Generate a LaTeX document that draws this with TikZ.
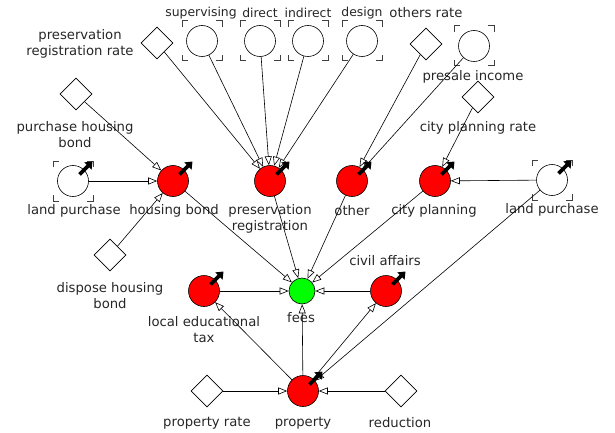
\documentclass[tikz,border=0pt]{standalone}
\usepackage{fontspec}
\setmainfont{DejaVu Sans}
\usetikzlibrary{arrows.meta,shapes.geometric}

\tikzset{
  flow/.style={circle,draw,fill=red,minimum size=31pt,inner sep=0pt,line width=0.6pt},
  total/.style={circle,draw,fill=green,minimum size=26pt,inner sep=0pt,line width=0.6pt},
  stock/.style={circle,draw,fill=white,minimum size=31pt,inner sep=0pt,line width=0.6pt},
  aux/.style={diamond,draw,fill=white,minimum size=32pt,inner sep=0pt,line width=0.6pt},
  lbl/.style={inner sep=0pt,align=center,text=black!85,font=\fontsize{13.2}{16}\selectfont},
  toplbl/.style={lbl,font=\fontsize{12.4}{16}\selectfont},
  link/.style={line width=0.6pt,-{Triangle[length=9pt,width=7pt,fill=white]}},
  valve/.style={line width=3.6pt,-{Triangle[length=6.5pt,width=10pt]}},
  corner/.style={line width=1pt,black!75},
}

% thick black arrow marking a flow or stock
\newcommand\flowmark[1]{\draw[valve] ([shift={(6.5,-6.5)}]#1.center) -- ([shift={(19.5,-19.5)}]#1.center);}
% corner brackets around a stock
\newcommand\stockbox[1]{%
  \begin{scope}[shift={(#1.center)}]
    \draw[corner] (-20,-14) -- (-20,-20) -- (-14,-20)
                  (14,-20) -- (20,-20) -- (20,-14)
                  (20,14) -- (20,20) -- (14,20)
                  (-14,20) -- (-20,20) -- (-20,14);
  \end{scope}}

\begin{document}
\begin{tikzpicture}[x=1pt,y=-1pt]
\useasboundingbox (0,0) rectangle (615,433);

% top row
\node[aux]   (prr)  at (157,43)  {};
\node[stock] (sup)  at (202,41)  {};
\node[stock] (dir)  at (260,41)  {};
\node[stock] (ind)  at (308,41)  {};
\node[stock] (des)  at (362,41)  {};
\node[aux]   (orr)  at (426,44)  {};
\node[stock] (pre)  at (474,46)  {};
\node[aux]   (cpr)  at (478,97)  {};
\node[aux]   (phb)  at (76,94)   {};

% middle row
\node[stock] (lpl)  at (73,181)  {};
\node[flow]  (hb)   at (173,181) {};
\node[flow]  (pr)   at (270,181) {};
\node[flow]  (oth)  at (352,181) {};
\node[flow]  (cp)   at (435,181) {};
\node[stock] (lpr)  at (552,180) {};
\node[aux]   (dhb)  at (110,255) {};

% lower rows
\node[flow]  (let)  at (204,291) {};
\node[total] (fees) at (302,291) {};
\node[flow]  (civ)  at (386,291) {};
\node[aux]   (prt)  at (207,391) {};
\node[flow]  (prop) at (303,391) {};
\node[aux]   (red)  at (401,391) {};

% labels
\node[lbl]    (prr-l)  at (80,44)    {preservation\\registration rate};
\node[toplbl] (sup-l)  at (201,13)   {supervising};
\node[toplbl] (dir-l)  at (260,13)   {direct};
\node[toplbl] (ind-l)  at (308,13)   {indirect};
\node[toplbl] (des-l)  at (362,13)   {design};
\node[lbl]    (orr-l)  at (426,13)   {others rate};
\node[lbl]    (pre-l)  at (473,77)   {presale income};
\node[lbl]    (cpr-l)  at (478,128)  {city planning rate};
\node[lbl]    (phb-l)  at (75,135)   {purchase housing\\bond};
\node[lbl]    (lpl-l)  at (74,211)   {land purchase};
\node[lbl]    (hb-l)   at (174,211)  {housing bond};
\node[lbl]    (pr-l)   at (270,219)  {preservation\\registration};
\node[lbl]    (oth-l)  at (352,211)  {other};
\node[lbl]    (cp-l)   at (434,211)  {city planning};
\node[lbl]    (lpr-l)  at (552,210)  {land purchase};
\node[lbl]    (dhb-l)  at (110,296)  {dispose housing\\bond};
\node[lbl]    (let-l)  at (204,330)  {local educational\\tax};
\node[lbl]    (fees-l) at (301,318)  {fees};
\node[lbl]    (civ-l)  at (385,261)  {civil affairs};
\node[lbl]    (prt-l)  at (207,423)  {property rate};
\node[lbl]    (prop-l) at (303,423)  {property};
\node[lbl]    (red-l)  at (400,423)  {reduction};

% stock brackets
\foreach \s in {sup,dir,ind,des,pre,lpl,lpr} {\stockbox{\s}}

% connectors
\draw[link] (phb) -- (hb);
\draw[link] (lpl) -- (hb);
\draw[link] (dhb) -- (hb);
\draw[link] (prr) -- (pr);
\draw[link] (sup) -- (pr);
\draw[link] (dir) -- (pr);
\draw[link] (ind) -- (pr);
\draw[link] (des) -- (pr);
\draw[link] (orr) -- (oth);
\draw[link] (pre) -- (oth);
\draw[link] (cpr) -- (cp);
\draw[link] (lpr) -- (cp);
\draw[link] (lpr) -- (prop);
\draw[link] (hb) -- (fees);
\draw[link] (pr) -- (fees);
\draw[link] (oth) -- (fees);
\draw[link] (cp) -- (fees);
\draw[link] (let) -- (fees);
\draw[link] (civ) -- (fees);
\draw[link] (prop) -- (fees);
\draw[link] (prop) -- (let);
\draw[link] (prop) -- (civ);
\draw[link] (prt) -- (prop);
\draw[link] (red) -- (prop);

% flow and stock markers
\foreach \f in {hb,pr,oth,cp,let,civ,prop,lpl,lpr} {\flowmark{\f}}
\end{tikzpicture}
\end{document}
